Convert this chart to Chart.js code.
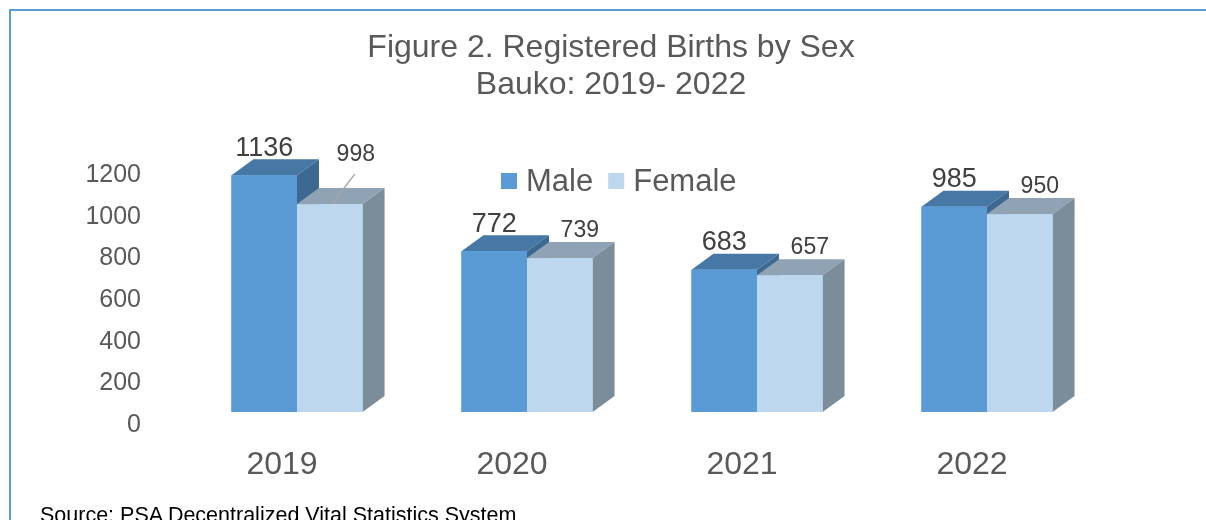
<!DOCTYPE html>
<html>
<head>
<meta charset="utf-8">
<script src="https://cdn.jsdelivr.net/npm/chart.js@4/dist/chart.umd.min.js"></script>
<style>
  html, body { margin: 0; padding: 0; background: #fff; }
  body { width: 1206px; height: 520px; position: relative; overflow: hidden; font-family: "Liberation Sans", Arial, sans-serif; }
  .frame { position: absolute; left: 9px; top: 9px; width: 1300px; height: 600px; border-top: 2px solid #5b9bd5; border-left: 2px solid #5b9bd5; }
  #wrap { position: absolute; left: 0; top: 0; width: 1206px; height: 520px; }
  .source { position: absolute; left: 40px; top: 505px; font-size: 21.5px; line-height: 21px; color: #000; white-space: nowrap; }
</style>
</head>
<body>
<div class="frame"></div>
<div id="wrap"><canvas id="birthsChart" width="1206" height="520"></canvas></div>
<div class="source">Source: PSA Decentralized Vital Statistics System</div>
<script>
const years = ['2019', '2020', '2021', '2022'];
const seriesNames = ['Male', 'Female'];
const maleBirths = [1136, 772, 683, 985];
const femaleBirths = [998, 739, 657, 950];
const yTicks = [0, 200, 400, 600, 800, 1000, 1200];
const titleLines = ['Figure 2. Registered Births by Sex', 'Bauko: 2019- 2022'];

const FONT = '"Liberation Sans", Arial, sans-serif';
const DEPTH_X = 22;
const DEPTH_Y = 16;

// front / top / side shades of each series
const faceColors = [
    { front: '#5b9bd5', top: '#4677a5', side: '#3c6891' },
    { front: '#bdd7ee', top: '#8fa3b5', side: '#7b8c9b' }
];

function poly(ctx, color, pts) {
    ctx.beginPath();
    ctx.moveTo(pts[0][0], pts[0][1]);
    for (let i = 1; i < pts.length; i++) ctx.lineTo(pts[i][0], pts[i][1]);
    ctx.closePath();
    ctx.fillStyle = color;
    ctx.fill();
}

// fakes the Excel 3D columns: top + side faces, front redrawn so the
// right hand bar hides the side of the left one
const bars3d = {
    id: 'bars3d',
    afterDatasetsDraw(chart) {
        const ctx = chart.ctx;
        ctx.save();
        for (let i = 0; i < chart.data.labels.length; i++) {
            chart.data.datasets.forEach((ds, d) => {
                const bar = chart.getDatasetMeta(d).data[i];
                const { x, y, base, width } = bar.getProps(['x', 'y', 'base', 'width'], true);
                const l = x - width / 2, r = x + width / 2;
                const c = faceColors[d];
                poly(ctx, c.top, [[l, y], [l + DEPTH_X, y - DEPTH_Y], [r + DEPTH_X, y - DEPTH_Y], [r, y]]);
                poly(ctx, c.side, [[r, y], [r + DEPTH_X, y - DEPTH_Y], [r + DEPTH_X, base - DEPTH_Y], [r, base]]);
                ctx.fillStyle = c.front;
                ctx.fillRect(l, y, width, base - y);
            });
        }
        ctx.restore();
    }
};

const valueLabels = {
    id: 'valueLabels',
    afterDatasetsDraw(chart, args, opts) {
        const ctx = chart.ctx;
        ctx.save();
        ctx.textAlign = 'center';
        ctx.textBaseline = 'middle';
        ctx.fillStyle = '#404040';
        chart.data.datasets.forEach((ds, d) => {
            const style = opts.series[d];
            ctx.font = style.size + 'px ' + FONT;
            chart.getDatasetMeta(d).data.forEach((bar, i) => {
                let lx = bar.x + style.dx;
                let ly = bar.y - DEPTH_Y - 11;
                const moved = style.moved && style.moved.index === i ? style.moved : null;
                if (moved) {
                    lx += moved.dx;
                    ly += moved.dy;
                    ctx.strokeStyle = '#a6a6a6';
                    ctx.lineWidth = 1.5;
                    ctx.beginPath();
                    ctx.moveTo(lx - 1, ly + 19);
                    ctx.lineTo(bar.x + 2, bar.y);
                    ctx.stroke();
                }
                ctx.fillText(String(ds.data[i]), lx, ly);
            });
        });
        ctx.restore();
    }
};

// heading is drawn here so it can sit off the plot's centre, like the original
const heading = {
    id: 'heading',
    afterDraw(chart, args, opts) {
        const ctx = chart.ctx;
        ctx.save();
        ctx.font = opts.size + 'px ' + FONT;
        ctx.fillStyle = '#595959';
        ctx.textAlign = 'center';
        ctx.textBaseline = 'middle';
        opts.lines.forEach((line, i) => ctx.fillText(line, opts.x, opts.y + i * opts.lineGap));
        ctx.restore();
    }
};

const insideLegend = {
    id: 'insideLegend',
    afterDraw(chart, args, opts) {
        const ctx = chart.ctx;
        ctx.save();
        ctx.font = opts.size + 'px ' + FONT;
        ctx.textBaseline = 'middle';
        ctx.textAlign = 'left';
        let x = opts.x;
        chart.data.datasets.forEach((ds, d) => {
            ctx.fillStyle = faceColors[d].front;
            ctx.fillRect(x, opts.y - 8, 16, 16);
            x += 25;
            ctx.fillStyle = '#595959';
            ctx.fillText(ds.label, x, opts.y + 1);
            x += ctx.measureText(ds.label).width + 15;
        });
        ctx.restore();
    }
};

new Chart(document.getElementById('birthsChart'), {
    type: 'bar',
    data: {
        labels: years,
        datasets: [
            { label: seriesNames[0], data: maleBirths, backgroundColor: faceColors[0].front },
            { label: seriesNames[1], data: femaleBirths, backgroundColor: faceColors[1].front }
        ]
    },
    options: {
        responsive: false,
        animation: false,
        categoryPercentage: 0.57,
        barPercentage: 1,
        layout: { padding: { left: 0, right: 104, top: 162, bottom: 28 } },
        scales: {
            x: {
                grid: { display: false, drawTicks: false },
                border: { display: false },
                ticks: { color: '#595959', font: { family: FONT, size: 32 }, padding: 34, labelOffset: -15 },
                afterFit: (scale) => { scale.height = 80; }
            },
            y: {
                min: 0,
                max: 1200,
                grid: { display: false, drawTicks: false },
                border: { display: false },
                ticks: {
                    color: '#595959',
                    font: { family: FONT, size: 25 },
                    padding: 41,
                    labelOffset: 13,
                    callback: (v) => String(v)
                },
                afterBuildTicks: (scale) => { scale.ticks = yTicks.map(v => ({ value: v })); },
                afterFit: (scale) => { scale.width = 182; }
            }
        },
        plugins: {
            legend: { display: false },
            tooltip: { enabled: false },
            title: { display: false },
            heading: { lines: titleLines, x: 611, y: 48.5, lineGap: 37, size: 32 },
            valueLabels: {
                series: [
                    { size: 27, dx: 0 },
                    { size: 23, dx: 20, moved: { index: 0, dx: 6, dy: -22 } }
                ]
            },
            insideLegend: { x: 501, y: 181, size: 31 }
        }
    },
    plugins: [bars3d, valueLabels, heading, insideLegend]
});
</script>
</body>
</html>
